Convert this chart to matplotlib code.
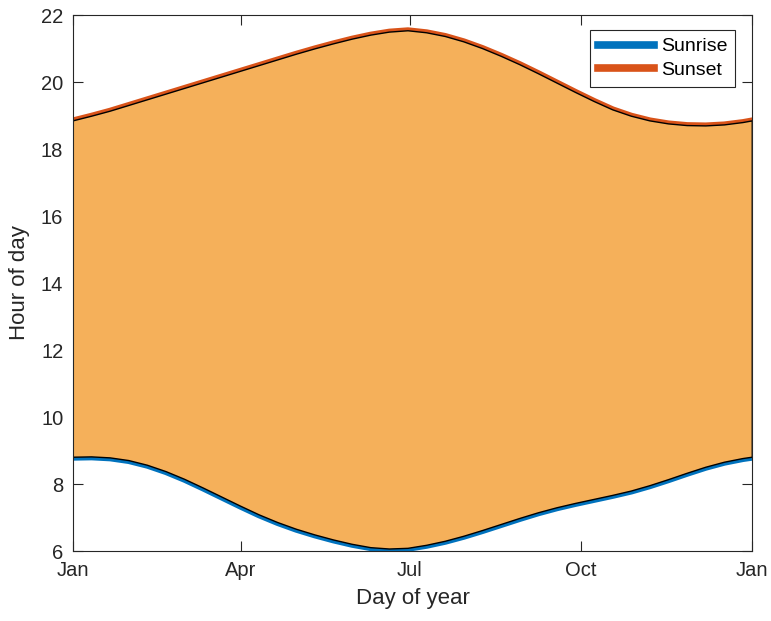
import matplotlib.pyplot as plt
import numpy as np

plt.rcParams['font.family'] = ['Liberation Sans', 'DejaVu Sans']

# day of year (0 = Jan 1)
days = [0, 10, 20, 30, 40, 50, 60, 70, 80, 90, 100, 110, 120, 130, 140, 150,
        160, 170, 180, 190, 200, 210, 220, 230, 240, 250, 260, 270, 280, 290,
        300, 310, 320, 330, 340, 350, 360, 365]

sunrise = [8.80, 8.81, 8.78, 8.70, 8.56, 8.37, 8.14, 7.88, 7.61, 7.34, 7.08,
           6.85, 6.65, 6.48, 6.33, 6.20, 6.10, 6.06, 6.08, 6.17, 6.29, 6.44,
           6.61, 6.79, 6.97, 7.14, 7.29, 7.42, 7.54, 7.66, 7.79, 7.95, 8.13,
           8.32, 8.50, 8.65, 8.76, 8.80]

sunset = [18.84, 18.98, 19.13, 19.30, 19.47, 19.64, 19.81, 19.98, 20.15, 20.32,
          20.49, 20.66, 20.83, 20.99, 21.14, 21.28, 21.40, 21.49, 21.53, 21.47,
          21.36, 21.20, 21.00, 20.77, 20.52, 20.25, 19.97, 19.69, 19.42, 19.17,
          18.98, 18.84, 18.75, 18.70, 18.69, 18.72, 18.79, 18.84]

tick_days = [0, 90, 181, 273, 365]
tick_labels = ['Jan', 'Apr', 'Jul', 'Oct', 'Jan']

BLUE = '#0072BD'
RED = '#D95319'
FILL = '#F5B05A'
AX = '#262626'

fig = plt.figure(figsize=(7.71, 6.21), dpi=100)
ax = fig.add_axes([0.0947, 0.1127, 0.881, 0.8631])

ax.plot(days, sunrise, color=BLUE, linewidth=5, label='Sunrise', zorder=2,
        solid_joinstyle='round')
ax.plot(days, sunset, color=RED, linewidth=5, label='Sunset', zorder=2,
        solid_joinstyle='round')

# patch between the two curves, drawn over the lines
poly_x = np.concatenate([days, days[::-1]])
poly_y = np.concatenate([sunrise, sunset[::-1]])
ax.fill(poly_x, poly_y, facecolor=FILL, edgecolor='black', linewidth=1,
        joinstyle='round', zorder=3)

ax.set_xlim(0, 365)
ax.set_ylim(6, 22)
ax.set_xticks(tick_days)
ax.set_xticklabels(tick_labels)
ax.set_yticks(np.arange(6, 23, 2))

for s in ax.spines.values():
    s.set_color(AX)
    s.set_linewidth(0.8)
    s.set_zorder(4)
ax.tick_params(direction='in', length=7, width=0.8, color=AX, labelcolor=AX,
               labelsize=14.5, top=True, right=True, pad=7)

ax.set_xlabel('Day of year', fontsize=16, color=AX, labelpad=6)
ax.set_ylabel('Hour of day', fontsize=16, color=AX, labelpad=8)

leg = ax.legend(loc='upper right', fontsize=14, handlelength=2.9,
                handletextpad=0.35, labelspacing=0.3, borderpad=0.4,
                fancybox=False, framealpha=1, borderaxespad=0,
                bbox_to_anchor=(0.975, 0.972))
leg.get_frame().set_edgecolor(AX)
leg.get_frame().set_linewidth(0.8)
leg.set_zorder(5)
for h in leg.get_lines():
    h.set_linewidth(5.5)

fig.savefig('out.png', dpi=100)
